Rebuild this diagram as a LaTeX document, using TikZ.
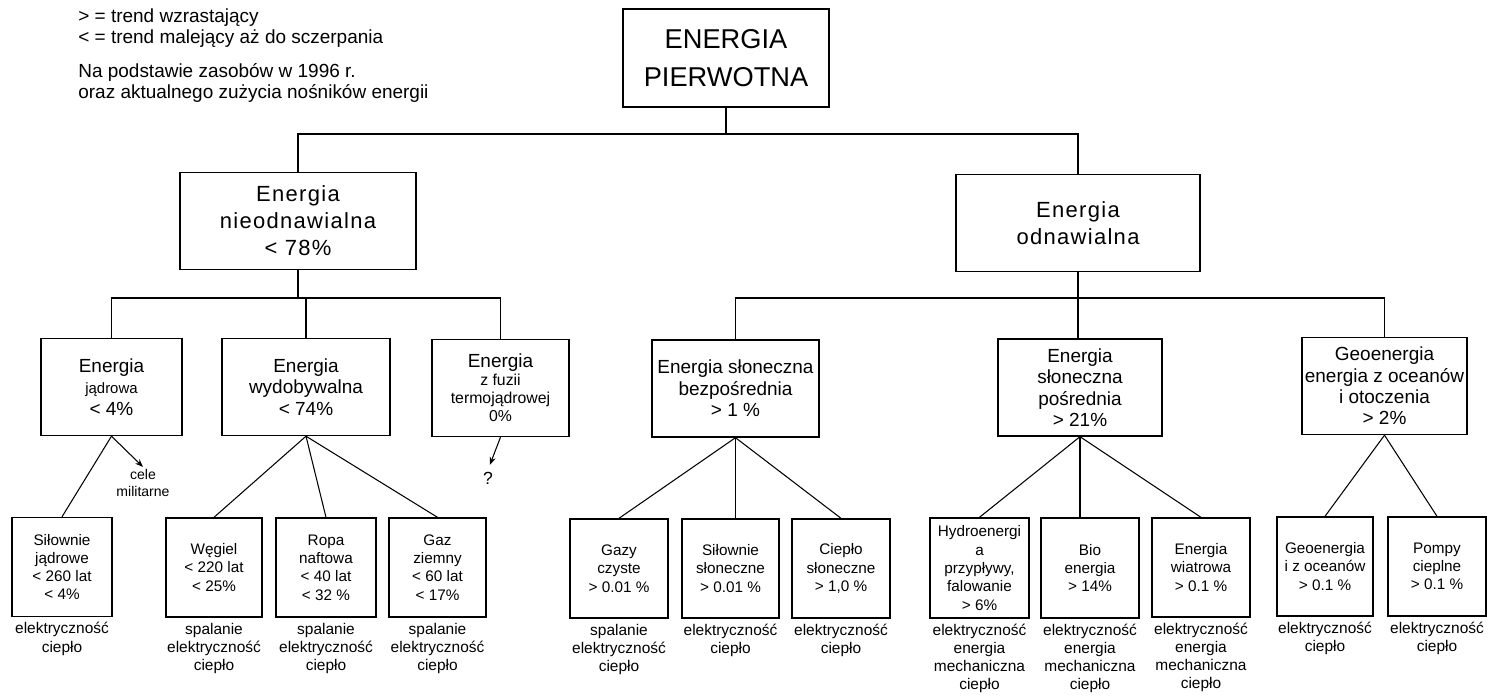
\documentclass[tikz,border=0pt]{standalone}
\usepackage{fontspec}
\setmainfont{Liberation Sans}
\newfontfamily\widefont[LetterSpace=6]{Liberation Sans}
\usetikzlibrary{positioning,arrows.meta}
\newcommand\mniej{\fontsize{9}{10.2}\selectfont}

\begin{document}
\begin{tikzpicture}[x=0.02cm,y=-0.02cm,
  box/.style={draw,line width=0.8pt,inner sep=1pt,align=center},
  pierwotna/.style={box,minimum width=4.12cm,minimum height=1.96cm,font=\fontsize{15.5}{22}\selectfont},
  rodzaj/.style={box,minimum height=1.94cm,font=\widefont\fontsize{12.5}{15.4}\selectfont},
  zrodlo/.style={box,minimum height=1.94cm,font=\fontsize{10.8}{12.2}\selectfont},
  nosnik/.style={box,minimum width=1.96cm,minimum height=1.98cm,font=\fontsize{8.7}{10.4}\selectfont},
  uzycie/.style={inner sep=0pt,align=center,below=0.1cm of #1,font=\fontsize{8.8}{10.3}\selectfont},
  conn/.style={line width=0.6pt}]
\useasboundingbox (0,0) rectangle (1489,696);

\node[anchor=north west,align=left,inner sep=0pt,font=\fontsize{10.8}{12}\selectfont] (trend) at (78,8) {> = trend wzrastający\\< = trend malejący aż do sczerpania};
\node[anchor=north west,align=left,inner sep=0pt,font=\fontsize{10.8}{12}\selectfont] (zasoby) at (78,63) {Na podstawie zasobów w 1996 r.\\oraz aktualnego zużycia nośników energii};

\node[pierwotna] (pierw) at (726,58) {ENERGIA\\PIERWOTNA};
\node[rodzaj,minimum width=4.72cm] (nieo) at (298,221) {Energia\\nieodnawialna\\< 78\%};
\node[rodzaj,minimum width=4.88cm] (odn) at (1078,223) {Energia\\odnawialna};

\node[zrodlo,minimum width=2.82cm] (jadr) at (111.5,387) {Energia\\{\fontsize{8.5}{12.2}\selectfont jądrowa}\\< 4\%};
\node[zrodlo,minimum width=3.36cm] (wyd) at (306,387) {Energia\\wydobywalna\\< 74\%};
\node[zrodlo,minimum width=2.74cm,font=\fontsize{10.8}{10.2}\selectfont] (fuz) at (500.5,388) {Energia\\{\mniej z fuzii}\\{\mniej termojądrowej}\\{\mniej 0\%}};
\node[zrodlo,minimum width=3.34cm] (bezp) at (735.5,388.5) {Energia słoneczna\\bezpośrednia\\> 1 \%};
\node[zrodlo,minimum width=3.28cm] (posr) at (1080,387.5) {Energia\\słoneczna\\pośrednia\\> 21\%};
\node[zrodlo,minimum width=3.3cm] (geo) at (1384.5,386) {Geoenergia\\energia z oceanów\\i otoczenia\\> 2\%};

\node[nosnik,minimum width=2cm] (silj) at (62,567) {Siłownie\\jądrowe\\< 260 lat\\< 4\%};
\node[nosnik,minimum width=1.92cm] (wegiel) at (214,567.5) {Węgiel\\< 220 lat\\< 25\%};
\node[nosnik,minimum width=2cm] (ropa) at (326,567.5) {Ropa\\naftowa\\< 40 lat\\< 32 \%};
\node[nosnik,minimum width=1.94cm] (gaz) at (437.5,567.5) {Gaz\\ziemny\\< 60 lat\\< 17\%};
\node[nosnik] (gazy) at (619,568.5) {Gazy\\czyste\\> 0.01 \%};
\node[nosnik,minimum width=1.94cm] (sils) at (730.5,568.5) {Siłownie\\słoneczne\\> 0.01 \%};
\node[nosnik] (cieps) at (841,568.5) {Ciepło\\słoneczne\\> 1,0 \%};
\node[nosnik,minimum width=1.98cm,minimum height=2cm] (hydro) at (979.5,568) {Hydroenergi\\a\\przypływy,\\falowanie\\> 6\%};
\node[nosnik,minimum height=2cm] (bio) at (1090,568) {Bio\\energia\\> 14\%};
\node[nosnik] (wiatr) at (1201,567.5) {Energia\\wiatrowa\\> 0.1 \%};
\node[nosnik,minimum width=1.92cm] (geoc) at (1325,566.5) {Geoenergia\\i z oceanów\\> 0.1 \%};
\node[nosnik] (pompy) at (1437,566.5) {Pompy\\cieplne\\> 0.1 \%};

\node[uzycie=silj] (uSilj) {elektryczność\\ciepło};
\node[uzycie=wegiel] (uWegiel) {spalanie\\elektryczność\\ciepło};
\node[uzycie=ropa] (uRopa) {spalanie\\elektryczność\\ciepło};
\node[uzycie=gaz] (uGaz) {spalanie\\elektryczność\\ciepło};
\node[uzycie=gazy] (uGazy) {spalanie\\elektryczność\\ciepło};
\node[uzycie=sils] (uSils) {elektryczność\\ciepło};
\node[uzycie=cieps] (uCieps) {elektryczność\\ciepło};
\node[uzycie=hydro] (uHydro) {elektryczność\\energia\\mechaniczna\\ciepło};
\node[uzycie=bio] (uBio) {elektryczność\\energia\\mechaniczna\\ciepło};
\node[uzycie=wiatr] (uWiatr) {elektryczność\\energia\\mechaniczna\\ciepło};
\node[uzycie=geoc] (uGeoc) {elektryczność\\ciepło};
\node[uzycie=pompy] (uPompy) {elektryczność\\ciepło};

\node[inner sep=1pt,align=center,font=\fontsize{8}{10}\selectfont] (cele) at (143,483) {cele\\militarne};
\node[inner sep=1pt,font=\fontsize{10}{12}\selectfont] (pyt) at (488,478) {?};

\coordinate (bar0) at (726,134);
\coordinate (bar1) at (298,298);
\coordinate (bar2) at (1078,298);

\draw[conn] (pierw) -- (bar0);
\draw[conn] (nieo.north) |- (bar0) -| (odn.north);

\draw[conn] (nieo.south) -- (nieo.south |- bar1);
\draw[conn] (jadr.north) |- (bar1) -| (fuz.north);
\draw[conn] (wyd.north) -- (wyd.north |- bar1);

\draw[conn] (odn.south) -- (odn.south |- posr.north);
\draw[conn] (bezp.north) |- (bar2) -| (geo.north);

\draw[conn] (jadr.south) -- (silj.north);
\draw[conn,-{Stealth[length=4.5pt,width=3.5pt]}] (jadr.south) -- (cele.north);
\draw[conn] (wyd.south) -- (wegiel.north);
\draw[conn] (wyd.south) -- (ropa.north);
\draw[conn] (wyd.south) -- (gaz.north);
\draw[conn,-{Stealth[length=4.5pt,width=3.5pt]},shorten >=3pt] (fuz.south) -- (pyt.north);

\draw[conn] (bezp.south) -- (gazy.north);
\draw[conn] (bezp.south) -- (bezp.south |- sils.north);
\draw[conn] (bezp.south) -- (cieps.north);
\draw[conn] (posr.south) -- (hydro.north);
\draw[conn] (posr.south) -- (posr.south |- bio.north);
\draw[conn] (posr.south) -- (wiatr.north);
\draw[conn] (geo.south) -- (geoc.north);
\draw[conn] (geo.south) -- (pompy.north);

\end{tikzpicture}
\end{document}
